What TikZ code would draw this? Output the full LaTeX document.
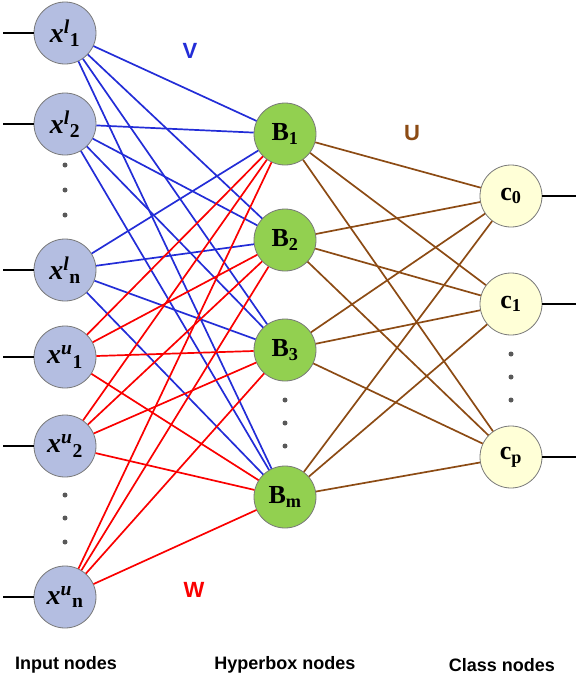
\documentclass[tikz,border=0pt]{standalone}
\usepackage{fontspec}
\usepackage{amsmath}
\setmainfont{Liberation Serif}
\newfontfamily\labelfont{Liberation Sans}
\usetikzlibrary{positioning}

\definecolor{vblue}{RGB}{35,45,215}
\definecolor{wred}{RGB}{250,0,0}
\definecolor{ubrown}{RGB}{140,75,20}
\definecolor{infill}{RGB}{180,190,225}
\definecolor{boxfill}{RGB}{146,208,80}
\definecolor{clsfill}{RGB}{255,255,215}
\definecolor{rimgray}{RGB}{120,120,120}

\tikzset{
  unit/.style={circle, draw=rimgray, line width=0.8pt, minimum size=62pt, inner sep=0pt, font=\fontsize{26}{26}\selectfont\bfseries},
  inunit/.style={unit, fill=infill, font=\fontsize{28}{28}\selectfont\bfseries},
  boxunit/.style={unit, fill=boxfill},
  clsunit/.style={unit, fill=clsfill},
  dotmark/.style={circle, fill=black!65, inner sep=0pt, minimum size=5pt},
  wlabel/.style={font=\labelfont\bfseries\fontsize{22}{22}\selectfont},
  layerlabel/.style={font=\labelfont\bfseries\fontsize{18}{18}\selectfont}
}

\newcommand{\xsym}[2]{\textit{x}$^{\text{\itshape #1}}{}_{\text{#2}}$}

\begin{document}
\begin{tikzpicture}[x=1pt, y=-1pt, line width=1.7pt]
  \useasboundingbox (0,0) rectangle (576,678);

  % input nodes
  \node (xl1) [inunit] at (65,33) {\xsym{l}{1}};
  \node (xl2) [inunit] at (65,124) {\xsym{l}{2}};
  \node (xln) [inunit] at (65,270) {\xsym{l}{n}};
  \node (xu1) [inunit] at (65,357) {\xsym{u}{1}};
  \node (xu2) [inunit] at (65,446) {\xsym{u}{2}};
  \node (xun) [inunit] at (65,597) {\xsym{u}{n}};

  % hyperbox nodes
  \node (b1) [boxunit] at (285,134) {B$_\text{1}$};
  \node (b2) [boxunit] at (285,240) {B$_\text{2}$};
  \node (b3) [boxunit] at (285,350) {B$_\text{3}$};
  \node (bm) [boxunit] at (285,497) {B$_\text{m}$};

  % class nodes
  \node (c0) [clsunit] at (511,196) {c$_\text{0}$};
  \node (c1) [clsunit] at (511,304) {c$_\text{1}$};
  \node (cp) [clsunit] at (511,457) {c$_\text{p}$};

  % dots
  \foreach \yy [count=\i] in {165,190,215} \node (dl\i) [dotmark] at (65,\yy) {};
  \foreach \yy [count=\i] in {495,518,542} \node (du\i) [dotmark] at (65,\yy) {};
  \foreach \yy [count=\i] in {400,423,446} \node (db\i) [dotmark] at (285,\yy) {};
  \foreach \yy [count=\i] in {354,377,400} \node (dc\i) [dotmark] at (511,\yy) {};

  % connections
  \foreach \s in {xl1,xl2,xln}
    \foreach \t in {b1,b2,b3,bm}
      \draw[vblue] (\s) -- (\t);
  \foreach \s in {xu1,xu2,xun}
    \foreach \t in {b1,b2,b3,bm}
      \draw[wred] (\s) -- (\t);
  \foreach \s in {b1,b2,b3,bm}
    \foreach \t in {c0,c1,cp}
      \draw[ubrown] (\s) -- (\t);

  % inputs and outputs
  \foreach \s in {xl1,xl2,xln,xu1,xu2,xun} {
    \coordinate (in-\s) at (3,0 |- \s);
    \draw (in-\s) -- (\s);
  }
  \foreach \t in {c0,c1,cp} {
    \coordinate (out-\t) at (576,0 |- \t);
    \draw (\t) -- (out-\t);
  }

  % weight labels
  \node (vlab) [wlabel, text=vblue] at (190,51) {V};
  \node (ulab) [wlabel, text=ubrown] at (412,133) {U};
  \node (wlab) [wlabel, text=wred] at (194,590) {W};

  % layer labels
  \node (inlab) [layerlabel] at (66,665) {Input nodes};
  \node (boxlab) [layerlabel] at (285,665) {Hyperbox nodes};
  \node (clslab) [layerlabel] at (502,665) {Class nodes};
\end{tikzpicture}
\end{document}
